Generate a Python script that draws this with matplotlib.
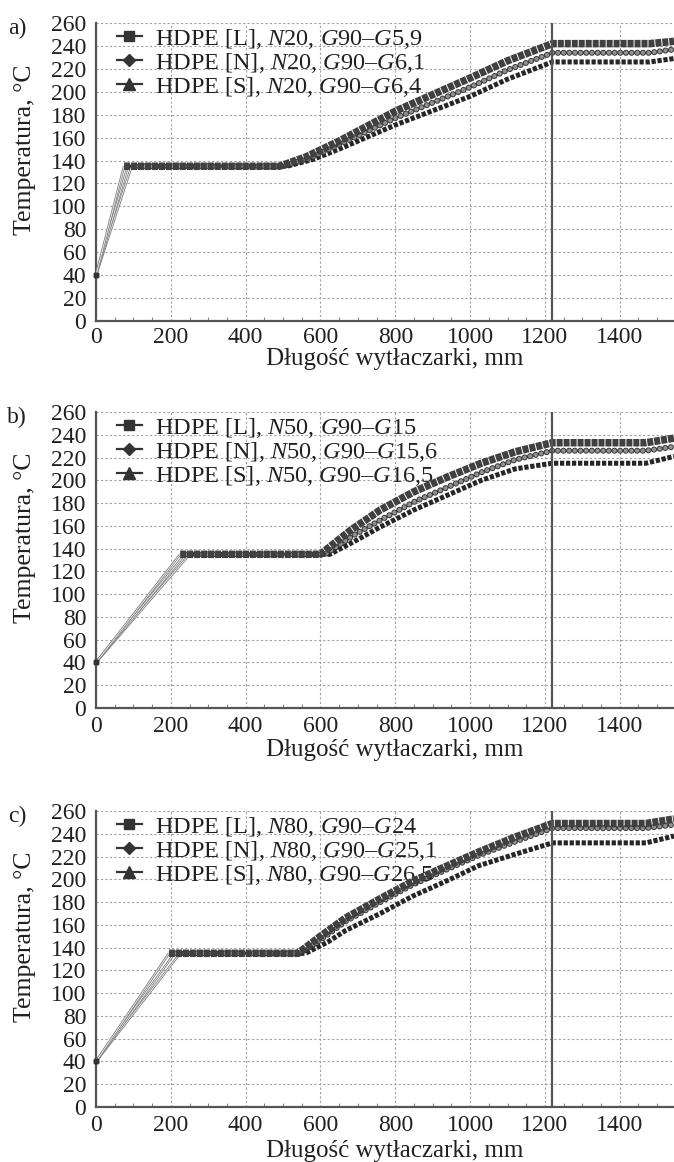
import matplotlib
matplotlib.use("Agg")
import matplotlib.pyplot as plt
import matplotlib.patheffects as pe
from matplotlib.lines import Line2D
from matplotlib.ticker import MultipleLocator

plt.rcParams['font.family'] = ['Liberation Serif', 'DejaVu Serif']
plt.rcParams['mathtext.fontset'] = 'custom'
plt.rcParams['mathtext.rm'] = 'Liberation Serif'
plt.rcParams['mathtext.it'] = 'Liberation Serif:italic'

# distance along the extruder (mm) / temperature (degC)
# a) N20
a_L_x = [0, 75, 490, 560, 650, 800, 1000, 1100, 1220, 1480, 1545]
a_L_y = [40, 135, 135, 143, 157, 183, 212, 227, 242, 242, 244]
a_N_x = [0, 85, 500, 570, 650, 800, 1000, 1100, 1220, 1480, 1545]
a_N_y = [40, 135, 135, 142, 154, 177, 204, 219, 234, 234, 237]
a_S_x = [0, 95, 510, 580, 650, 800, 1000, 1100, 1220, 1480, 1545]
a_S_y = [40, 135, 135, 141, 150, 171, 196, 211, 226, 226, 229]

# b) N50
b_L_x = [0, 225, 600, 680, 760, 850, 940, 1030, 1120, 1220, 1470, 1545]
b_L_y = [40, 135, 135, 156, 174, 190, 203, 215, 225, 233, 233, 237]
b_N_x = [0, 238, 612, 690, 760, 850, 940, 1030, 1120, 1220, 1470, 1545]
b_N_y = [40, 135, 135, 152, 165, 181, 194, 207, 218, 226, 226, 229.5]
b_S_x = [0, 250, 625, 700, 760, 850, 940, 1030, 1120, 1220, 1470, 1545]
b_S_y = [40, 135, 135, 148, 159, 174, 187, 200, 210, 215, 215, 221]

# c) N80
c_L_x = [0, 195, 540, 600, 667, 760, 845, 940, 1023, 1120, 1220, 1470, 1545]
c_L_y = [40, 135, 135, 150, 166, 183, 198, 212, 224, 237, 249, 249, 253]
c_N_x = [0, 210, 545, 605, 667, 760, 845, 940, 1023, 1120, 1220, 1470, 1545]
c_N_y = [40, 135, 135, 148, 163, 180, 195, 209, 221, 233, 245, 245, 248]
c_S_x = [0, 225, 560, 620, 667, 760, 845, 940, 1023, 1120, 1220, 1470, 1545]
c_S_y = [40, 135, 135, 145, 155, 170, 185, 199, 212, 222, 232, 232, 238]

screw_end = 1220

a_labels = [r"HDPE [L], $\mathit{N}$20, $\mathit{G}$90–$\mathit{G}$5,9",
            r"HDPE [N], $\mathit{N}$20, $\mathit{G}$90–$\mathit{G}$6,1",
            r"HDPE [S], $\mathit{N}$20, $\mathit{G}$90–$\mathit{G}$6,4"]
b_labels = [r"HDPE [L], $\mathit{N}$50, $\mathit{G}$90–$\mathit{G}$15",
            r"HDPE [N], $\mathit{N}$50, $\mathit{G}$90–$\mathit{G}$15,6",
            r"HDPE [S], $\mathit{N}$50, $\mathit{G}$90–$\mathit{G}$16,5"]
c_labels = [r"HDPE [L], $\mathit{N}$80, $\mathit{G}$90–$\mathit{G}$24",
            r"HDPE [N], $\mathit{N}$80, $\mathit{G}$90–$\mathit{G}$25,1",
            r"HDPE [S], $\mathit{N}$80, $\mathit{G}$90–$\mathit{G}$26,5"]

W, H = 674, 1162
TXT = '#231f20'
AX = '#555555'

panels = [
    ("a)", 23, 321, [(a_S_x, a_S_y), (a_N_x, a_N_y), (a_L_x, a_L_y)], a_labels, 4, 359),
    ("b)", 412, 708, [(b_S_x, b_S_y), (b_N_x, b_N_y), (b_L_x, b_L_y)], b_labels, 6, 750),
    ("c)", 811, 1107, [(c_S_x, c_S_y), (c_N_x, c_N_y), (c_L_x, c_L_y)], c_labels, 6, 1151),
]

# style per series kind: S (triangles), N (diamonds), L (squares)
kinds = ['S', 'N', 'L']


def band(ax, x, y, kind):
    # ramp from the feed: thin hollow line without markers
    ax.plot(x[:2], y[:2], color='white', lw=0.5, zorder=3, solid_capstyle='butt',
            path_effects=[pe.Stroke(linewidth=1.8, foreground='#858585'), pe.Normal()])
    ax.plot(x[:1], y[:1], ls='none', marker='s', ms=3.5, color='#333333', zorder=4, clip_on=False)
    # dense marker band of the simulation nodes
    if kind == 'L':
        ax.plot(x[1:], y[1:], color='#404040', lw=5.4, ls=(0, (0.8, 0.13)),
                dash_capstyle='butt', solid_joinstyle='miter', zorder=6)
    elif kind == 'N':
        ax.plot(x[1:], y[1:], color='#909090', lw=3.0, ls=(0, (0.01, 1.35)),
                dash_capstyle='round', zorder=5,
                path_effects=[pe.Stroke(linewidth=4.4, foreground='#3a3a3a'), pe.Normal()])
    else:
        ax.plot(x[1:], y[1:], color='#262626', lw=3.6, ls=(0, (0.85, 0.35)),
                dash_capstyle='butt', zorder=4)


handles = [
    Line2D([], [], color='#333333', lw=1.6, marker='s', ms=7.5),
    Line2D([], [], color='#333333', lw=1.6, marker='D', ms=6.5),
    Line2D([], [], color='#333333', lw=1.6, marker='^', ms=8.5),
]

fig = plt.figure(figsize=(W / 100, H / 100), dpi=100)

for tag, top, bot, series, labels, xpad, xlab_y in panels:
    ax = fig.add_axes([96 / W, 1 - bot / H, (W - 96) / W, (bot - top) / H])
    for (x, y), k in zip(series, kinds):
        band(ax, x, y, k)
    ax.axvline(screw_end, color=AX, lw=1.6, zorder=7)

    ax.set_xlim(0, 1545)
    ax.set_ylim(0, 260)
    ax.xaxis.set_major_locator(MultipleLocator(200))
    ax.xaxis.set_minor_locator(MultipleLocator(50))
    ax.yaxis.set_major_locator(MultipleLocator(20))
    ax.grid(True, which='major', color='#a0a0a0', lw=0.8, ls=(0, (2, 2)))
    ax.set_axisbelow(True)
    for s in ['top', 'right']:
        ax.spines[s].set_visible(False)
    for s in ['left', 'bottom']:
        ax.spines[s].set_color(AX)
        ax.spines[s].set_linewidth(1.6)
    ax.tick_params(axis='both', which='major', length=0, labelsize=17, labelcolor=TXT)
    ax.tick_params(axis='y', pad=7)
    ax.tick_params(axis='x', pad=xpad)
    ax.tick_params(axis='x', which='minor', direction='in', length=3, color='#888888', width=0.8)

    leg = ax.legend(handles, labels, loc='upper left', bbox_to_anchor=(0.02, 1.02),
                    frameon=False, fontsize=17.5, handlelength=1.0, handletextpad=0.55,
                    labelspacing=0.0, borderaxespad=0.0)
    for t in leg.get_texts():
        t.set_color(TXT)

    fig.text(17 / W, 1 - (top + 5) / H, tag, fontsize=17, color=TXT, ha='center', va='center')
    fig.text(25 / W, 1 - ((top + bot) / 2 - 22) / H, "Temperatura, °C", fontsize=18.5,
             color=TXT, rotation=90, ha='center', va='center')
    fig.text(395 / W, 1 - xlab_y / H, "Długość wytłaczarki, mm", fontsize=18,
             color=TXT, ha='center', va='center')

fig.savefig("out.png", dpi=100)
